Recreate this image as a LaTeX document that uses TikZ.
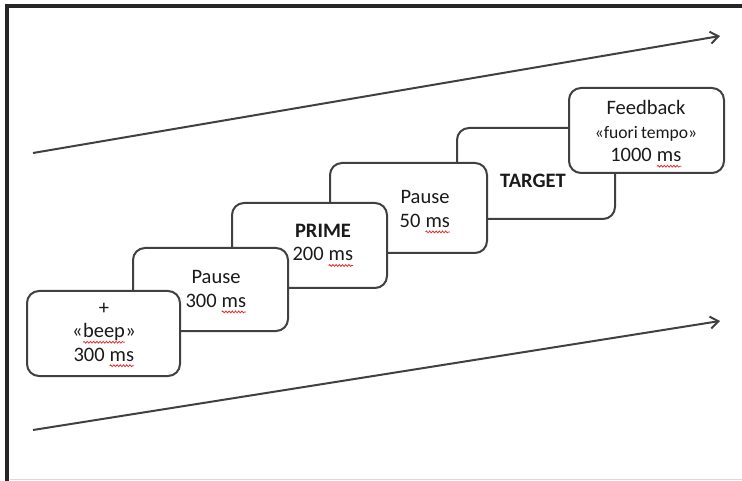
\documentclass[tikz,border=0pt]{standalone}
\usepackage{fontspec}
\setmainfont{Carlito}
\usetikzlibrary{arrows.meta,decorations.pathmorphing}
\definecolor{edge}{HTML}{404040}
\definecolor{ink}{HTML}{1A1A1A}
\definecolor{spellred}{HTML}{E03030}
% red wavy underline under a word, the word itself stays black
\newcommand\spellmark[1]{\tikz[baseline=(w.base)]{%
  \node[inner sep=0pt, outer sep=0pt] (w) {#1};
  \draw[spellred, line width=0.8pt, decorate,
        decoration={snake, amplitude=0.9pt, segment length=3.2pt}]
    ([yshift=-4.5pt]w.base west) -- ([yshift=-4.5pt]w.base east);}}
\tikzset{
  stage/.style={draw=edge, line width=2pt, rounded corners=12pt, fill=white, inner sep=0pt},
  caption/.style={text=ink, align=center, font=\fontsize{20.5}{23.5}\selectfont, inner sep=0pt},
  timeline/.style={draw=edge, line width=2pt, -{Straight Barb[length=8pt,width=12pt,line width=2pt]}}
}
\begin{document}
\begin{tikzpicture}[x=1pt,y=-1pt]
\useasboundingbox (0,0) rectangle (742,481);
% page frame
\draw[line width=1.5pt, black!15] (10,479.5) -- (742,479.5);
\draw[line width=4.5pt, black!85] (742,6) -- (7,6) -- (7,481);

% time arrows
\coordinate (topstart) at (33,153);
\coordinate (topend) at (720,36);
\coordinate (botstart) at (33,430);
\coordinate (botend) at (720,321);
\draw[timeline] (topstart) -- (topend);
\draw[timeline] (botstart) -- (botend);

% stacked stage cards, back to front
\node[stage, minimum width=158pt, minimum height=91pt] (target) at (536,173.5) {};
\node[stage, minimum width=155pt, minimum height=85pt] (feedback) at (646.5,130.5) {};
\node[stage, minimum width=157pt, minimum height=90pt] (pause2) at (408.5,208) {};
\node[stage, minimum width=155pt, minimum height=85pt] (prime) at (309.5,245.5) {};
\node[stage, minimum width=155pt, minimum height=83pt] (pause1) at (210.5,289.5) {};
\node[stage, minimum width=153pt, minimum height=85pt] (fix) at (103.5,333.5) {};

% card texts
\node[caption] (fixtxt) at (104,335) {+\\«\spellmark{beep}»\\300 \spellmark{ms}};
\node[caption] (pause1txt) at (216,292) {Pause\\300 \spellmark{ms}};
\node[caption] (primetxt) at (323,245.5) {\textbf{PRIME}\\200 \spellmark{ms}};
\node[caption] (pause2txt) at (425,212) {Pause\\50 \spellmark{ms}};
\node[caption] (targettxt) at (533,181) {\textbf{TARGET}};
\node[caption] (feedbacktxt) at (646,134) {Feedback\\{\fontsize{17.6}{23.5}\selectfont«fuori\hspace{0.18em}tempo»}\\1000 \spellmark{ms}};
\end{tikzpicture}
\end{document}
